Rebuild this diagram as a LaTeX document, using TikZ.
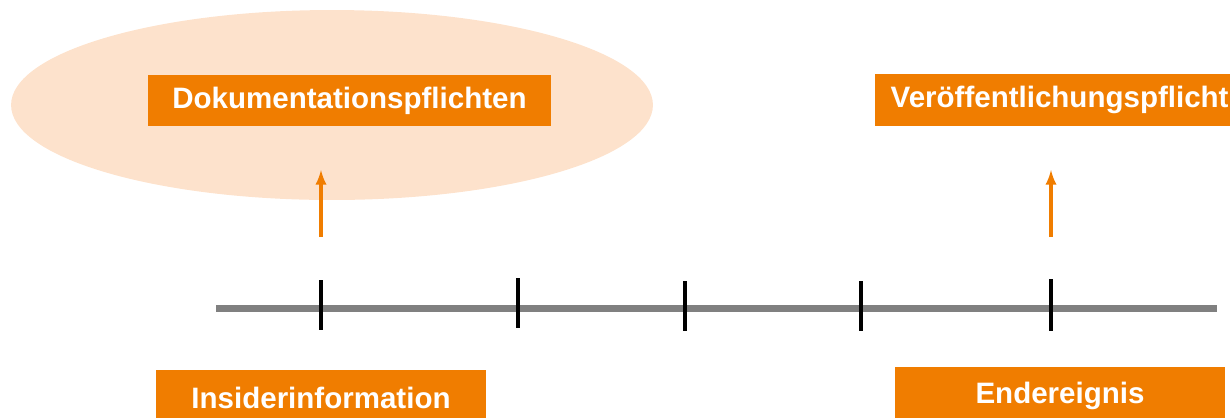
\documentclass[tikz,border=0pt]{standalone}
\usepackage{fontspec}
\setmainfont{Liberation Sans}
\usetikzlibrary{arrows,shapes.geometric}
\definecolor{pflicht}{RGB}{240,125,0}
\definecolor{hell}{RGB}{253,226,204}
\definecolor{achse}{RGB}{128,128,128}

\begin{document}
\begin{tikzpicture}[>=latex,thick,x=0.02cm,y=-0.02cm]

\tikzset{
	box/.style={fill=pflicht,text=white,inner sep=0pt,
		font=\bfseries\fontsize{16.8}{19}\selectfont},
	pfeil/.style={->,color=pflicht,line width=0.065cm},
}

\clip (0,0) rectangle (1230,417);
\useasboundingbox (0,0) rectangle (1230,417);

% Wolke hinter der Dokumentation
\node[ellipse,fill=hell,minimum width=12.84cm,minimum height=3.8cm] (wolke) at (332,105) {};

% Kaestchen
\node[box,minimum width=8.06cm,minimum height=1.02cm] (doku) at (349.5,100.5) {Dokumentationspflichten};
\node[box,anchor=west,minimum height=1.04cm,text width=7.5cm,inner xsep=0.32cm] (veroef) at (874,100) {Veröffentlichungspflicht};
\node[box,minimum width=6.6cm,minimum height=1.1cm] (insider) at (321,397.5) {Insiderinformation};
\node[box,minimum width=6.6cm,minimum height=1.16cm] (ende) at (1060,396) {Endereignis};

% Zeitachse
\draw[color=achse,line width=0.14cm] (216,308)--(1217,308);
\foreach \x/\t/\b in {321/280/330,518/278/328,685/281/331,861/281/331,1051/279/331}{
	\draw[line width=0.08cm] (\x,\t)--(\x,\b);
}

% Pfeile
\coordinate (ia) at (321,237);
\coordinate (ib) at (321,170);
\coordinate (ea) at (1051,237);
\coordinate (eb) at (1051,170);
\draw[pfeil] (ia)--(ib);
\draw[pfeil] (ea)--(eb);

\end{tikzpicture}
\end{document}
